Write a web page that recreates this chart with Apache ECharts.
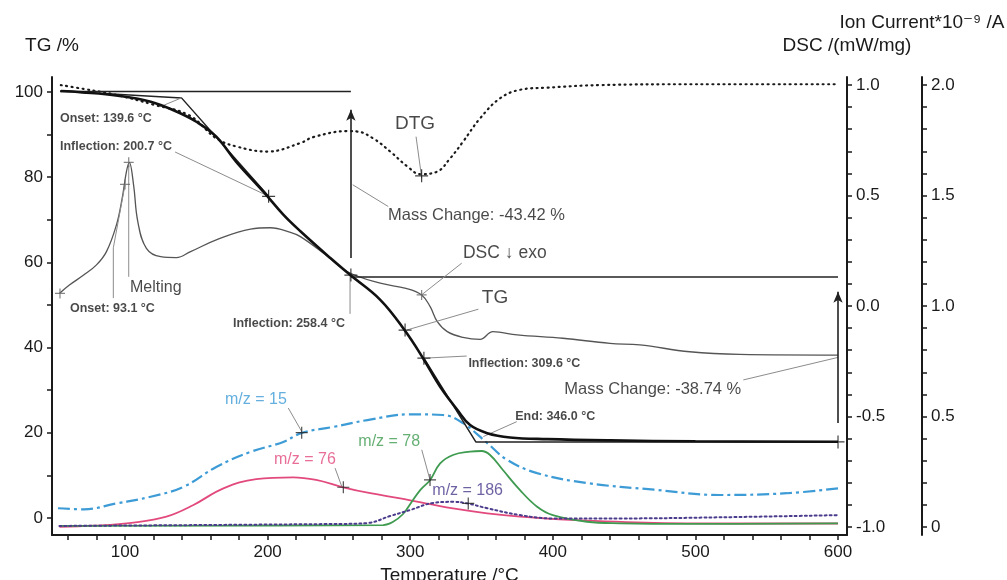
<!DOCTYPE html>
<html>
<head>
<meta charset="utf-8">
<script src="https://cdn.jsdelivr.net/npm/echarts@6.0.0/dist/echarts.min.js"></script>
<style>
  html, body { margin: 0; padding: 0; background: #fff; }
  #chart { width: 1007px; height: 580px; }
</style>
</head>
<body>
<div id="chart"></div>
<script>
// temperature axis ticks / labels
const tempTicks = [60, 80, 100, 120, 140, 160, 180, 200, 220, 240, 260, 280, 300, 320, 340, 360, 380, 400, 420, 440, 460, 480, 500, 520, 540, 560, 580, 600];
const tempLabels = [100, 200, 300, 400, 500, 600];
const tgTicks = [0, 10, 20, 30, 40, 50, 60, 70, 80, 90, 100];
const tgLabels = [0, 20, 40, 60, 80, 100];
const dscTicks = [-1.0, -0.9, -0.8, -0.7, -0.6, -0.5, -0.4, -0.3, -0.2, -0.1, 0, 0.1, 0.2, 0.3, 0.4, 0.5, 0.6, 0.7, 0.8, 0.9, 1.0];
const dscLabels = [-1.0, -0.5, 0, 0.5, 1.0];
const ionTicks = [0, 0.1, 0.2, 0.3, 0.4, 0.5, 0.6, 0.7, 0.8, 0.9, 1.0, 1.1, 1.2, 1.3, 1.4, 1.5, 1.6, 1.7, 1.8, 1.9, 2.0];
const ionLabels = [0, 0.5, 1.0, 1.5, 2.0];

// TG curve (%)
const tgTemp = [55, 70, 95, 118, 136, 150, 164, 178, 197, 211, 223, 244, 258, 279, 296, 309, 321, 333, 342, 354, 370, 396, 440, 500, 600];
const tgMass = [100.2, 99.9, 99.1, 97.7, 95.4, 93.0, 89.5, 83.6, 76.6, 71.2, 67.3, 61.0, 57.0, 51.2, 44.1, 37.5, 30.8, 25.4, 21.8, 19.9, 18.9, 18.5, 18.2, 18.0, 17.9];

// DTG curve (drawn on TG scale, no own axis)
const dtgTemp = [55, 71, 94, 120, 145, 164, 178, 200, 223, 232, 256, 263, 274, 286, 298, 307, 319, 328, 337, 349, 363, 377, 396, 433, 500, 600];
const dtgVal = [101.6, 100.7, 99.3, 97.0, 94.5, 89.1, 87.2, 86.0, 88.0, 89.4, 90.8, 90.7, 89.1, 86.0, 82.5, 80.7, 81.3, 84.4, 88.3, 93.8, 98.5, 100.5, 101.0, 101.6, 101.8, 101.8];

// DSC curve (mW/mg)
const dscTemp = [54, 61, 71, 80, 87, 94, 98, 101, 103, 106, 109, 115, 125, 136, 146, 164, 188, 202, 216, 223, 240, 256, 279, 297, 308, 314, 319, 326, 337, 349, 358, 375, 407, 440, 461, 496, 531, 600];
const dscVal = [0.057, 0.095, 0.140, 0.186, 0.246, 0.367, 0.487, 0.608, 0.650, 0.548, 0.381, 0.261, 0.223, 0.219, 0.246, 0.299, 0.348, 0.354, 0.333, 0.314, 0.235, 0.155, 0.103, 0.080, 0.050, -0.003, -0.071, -0.116, -0.142, -0.151, -0.116, -0.131, -0.146, -0.169, -0.176, -0.207, -0.219, -0.222];

// ion currents (*10^-9 A)
const mz15Temp = [53, 71, 94, 118, 141, 164, 188, 211, 224, 246, 270, 300, 323, 337, 354, 368, 389, 424, 471, 517, 564, 600];
const mz15Val = [0.085, 0.080, 0.107, 0.137, 0.182, 0.272, 0.340, 0.385, 0.426, 0.453, 0.484, 0.510, 0.507, 0.470, 0.380, 0.304, 0.244, 0.199, 0.169, 0.145, 0.153, 0.175];
const mz76Temp = [54, 78, 106, 129, 148, 169, 192, 218, 234, 253, 272, 293, 314, 330, 354, 377, 412, 471, 541, 600];
const mz76Val = [0.001, 0.006, 0.020, 0.047, 0.100, 0.175, 0.217, 0.225, 0.213, 0.180, 0.153, 0.130, 0.104, 0.084, 0.062, 0.047, 0.032, 0.019, 0.016, 0.016];
const mz78Temp = [54, 281, 288, 295, 301, 307, 314, 321, 330, 342, 350, 356, 365, 377, 389, 400, 424, 447, 494, 600];
const mz78Val = [0.005, 0.009, 0.024, 0.059, 0.113, 0.167, 0.213, 0.288, 0.326, 0.341, 0.344, 0.326, 0.258, 0.167, 0.092, 0.054, 0.024, 0.017, 0.014, 0.017];
const mz186Temp = [54, 251, 270, 286, 300, 316, 330, 340, 354, 377, 400, 447, 517, 600];
const mz186Val = [0.005, 0.014, 0.018, 0.050, 0.077, 0.109, 0.114, 0.107, 0.085, 0.054, 0.039, 0.039, 0.044, 0.054];

// TG evaluation lines (temperature, %)
const onsetLine = [[54.4, 100.2], [139.6, 98.6], [200.7, 75.5]];
const startLevel = [[54.4, 100.1], [258.4, 100.1]];
const midLevel = [[258.4, 56.58], [600, 56.58]];
const endLine = [[309.6, 37.5], [346.0, 17.84], [600, 17.84]];
const massArrows = [[[258.4, 61.0], [258.4, 95.8]], [[600, 22.3], [600, 53.1]]];

// markers (+)
const tgMarks = [[200.7, 75.5], [258.4, 57.0], [296.4, 44.1], [309.6, 37.5], [600, 17.84], [308, 80.3]];
const dscMarks = [[54.4, 0.057], [100, 0.55], [102.6, 0.65], [308, 0.05]];
const ionMarks = [[223.9, 0.427], [253.1, 0.180], [313.9, 0.213], [340.7, 0.107]];

// annotation leaders (temperature, TG scale)
const leaders = [
  [[124.5, 96.5], [139.6, 98.6]],
  [[135.1, 85.9], [200.7, 75.5]],
  [[102.6, 82.9], [102.6, 56.6]],
  [[91.8, 63.4], [91.8, 51.6]],
  [[91.8, 63.4], [100, 78.2]],
  [[257.8, 56.8], [257.8, 47.9]],
  [[304.1, 89.5], [308.1, 79.7]],
  [[284.6, 73.1], [259.7, 78.2]],
  [[336.1, 59.8], [308.1, 52.4]],
  [[347.8, 49.0], [297.5, 44.1]],
  [[339.6, 38.0], [309.2, 37.5]],
  [[374.7, 22.6], [351.3, 19.1]],
  [[533.6, 32.4], [600.2, 37.7]],
  [[214.5, 25.8], [223.9, 20.3]],
  [[247.3, 11.7], [252.0, 7.4]],
  [[308.1, 16.0], [313.9, 8.9]]
];

// annotation texts: text, temperature, TG-scale position of left/middle, size, colour, weight
const notes = [
  ['Onset: 139.6 °C', 54.4, 93.7, 12.5, '#1a1a1a', 'bold'],
  ['Inflection: 200.7 °C', 54.4, 87.1, 12.5, '#1a1a1a', 'bold'],
  ['Melting', 103.5, 54.0, 16, '#1a1a1a', 'normal'],
  ['Onset: 93.1 °C', 61.4, 49.1, 12.5, '#1a1a1a', 'bold'],
  ['DTG', 289.3, 92.5, 19, '#1a1a1a', 'normal'],
  ['Mass Change: -43.42 %', 284.4, 70.9, 16.5, '#1a1a1a', 'normal'],
  ['DSC ↓ exo', 337.0, 62.2, 17.5, '#1a1a1a', 'normal'],
  ['TG', 350.2, 51.6, 19, '#1a1a1a', 'normal'],
  ['Inflection: 258.4 °C', 175.7, 45.7, 12.5, '#1a1a1a', 'bold'],
  ['Inflection: 309.6 °C', 340.8, 36.2, 12.5, '#1a1a1a', 'bold'],
  ['Mass Change: -38.74 %', 408.0, 30.1, 16.5, '#1a1a1a', 'normal'],
  ['End: 346.0 °C', 373.6, 23.9, 12.5, '#1a1a1a', 'bold'],
  ['m/z = 15', 170.1, 27.7, 16, '#3d9bd6', 'normal'],
  ['m/z = 76', 204.5, 13.6, 16, '#e24a7d', 'normal'],
  ['m/z = 78', 263.6, 17.9, 16, '#3f9b50', 'normal'],
  ['m/z = 186', 315.5, 6.4, 16, '#4b3b8c', 'normal']
];

const zip = (a, b) => a.map((v, i) => [v, b[i]]);
const FONT = 'Liberation Sans, Arial, DejaVu Sans, sans-serif';
const AXIS = '#1a1a1a';
const cross = 'path://M0,5L10,5M5,0L5,10';

const chart = echarts.init(document.getElementById('chart'));

const lineSeries = (name, data, yIndex, style, z) => ({
  name: name,
  type: 'line',
  xAxisIndex: 0,
  yAxisIndex: yIndex,
  data: data,
  showSymbol: false,
  symbol: 'none',
  smooth: 0.4,
  lineStyle: style,
  z: z || 2,
  silent: true
});

const straight = (data, style, z) => ({
  type: 'line',
  yAxisIndex: 0,
  data: data,
  symbol: 'none',
  lineStyle: style,
  z: z || 3,
  silent: true
});

const series = [
  lineSeries('m/z = 15', zip(mz15Temp, mz15Val), 2, { color: '#3d9bd6', width: 2.2, type: [12, 4, 3, 4] }),
  lineSeries('m/z = 76', zip(mz76Temp, mz76Val), 2, { color: '#e24a7d', width: 1.8 }),
  lineSeries('m/z = 78', zip(mz78Temp, mz78Val), 2, { color: '#3f9b50', width: 1.8 }),
  lineSeries('m/z = 186', zip(mz186Temp, mz186Val), 2, { color: '#4b3b8c', width: 2, type: [2, 3], cap: 'round' }),
  lineSeries('DSC', zip(dscTemp, dscVal), 1, { color: '#555', width: 1.3 }),
  lineSeries('DTG', zip(dtgTemp, dtgVal), 0, { color: '#1a1a1a', width: 2.2, type: [1, 4.5], cap: 'round' }),
  straight(onsetLine, { color: '#222', width: 1.5 }),
  straight(startLevel, { color: '#222', width: 1.5 }),
  straight(midLevel, { color: '#222', width: 1.5 }),
  straight(endLine, { color: '#222', width: 1.5 }),
  Object.assign(lineSeries('TG', zip(tgTemp, tgMass), 0, { color: '#111', width: 2.6 }, 5), {
    markLine: {
      silent: true,
      symbol: ['none', 'arrow'],
      symbolSize: [7, 11],
      label: { show: false },
      lineStyle: { color: '#222', width: 1.6, type: 'solid' },
      data: massArrows.map(a => [{ coord: a[0] }, { coord: a[1] }])
    }
  })
];

leaders.forEach(l => series.push(straight(l, { color: '#8c8c8c', width: 1 }, 4)));

const markSeries = (data, yIndex, size, color) => ({
  type: 'scatter',
  yAxisIndex: yIndex,
  data: data,
  symbol: cross,
  symbolSize: size,
  itemStyle: { color: 'none', borderColor: color, borderWidth: 1.2 },
  z: 6,
  silent: true
});
series.push(markSeries(tgMarks, 0, 13, '#111'));
series.push(markSeries(dscMarks, 1, 10, '#666'));
series.push(markSeries(ionMarks, 2, 12, '#222'));

series.push({
  type: 'scatter',
  yAxisIndex: 0,
  symbolSize: 0,
  silent: true,
  z: 7,
  data: notes.map(n => ({
    name: n[0],
    value: [n[1], n[2]],
    label: { fontSize: n[3], color: n[4], fontWeight: n[5] }
  })),
  label: {
    show: true,
    position: 'right',
    distance: 0,
    formatter: '{b}',
    fontFamily: FONT
  }
});

const nameText = { color: AXIS, fontSize: 19, fontFamily: FONT };

chart.setOption({
  animation: false,
  backgroundColor: '#fff',
  grid: { left: 52, right: 160, top: 77, bottom: 45, outerBoundsMode: 'none', containLabel: false },
  xAxis: {
    type: 'value',
    min: 48.8,
    max: 606.3,
    name: 'Temperature /°C',
    nameLocation: 'middle',
    nameGap: 26,
    nameTextStyle: nameText,
    axisLine: { onZero: false, lineStyle: { color: AXIS, width: 2 } },
    axisTick: { customValues: tempTicks, length: 5, lineStyle: { color: AXIS, width: 1.5 } },
    axisLabel: { customValues: tempLabels, margin: 9, color: AXIS, fontSize: 17, fontFamily: FONT },
    splitLine: { show: false }
  },
  yAxis: [
    {
      type: 'value',
      position: 'left',
      min: -4,
      max: 103.5,
      name: 'TG /%',
      nameLocation: 'end',
      nameGap: 22,
      nameTextStyle: nameText,
      axisLine: { show: true, onZero: false, lineStyle: { color: AXIS, width: 2 } },
      axisTick: { customValues: tgTicks, length: 5, lineStyle: { color: AXIS, width: 1.5 } },
      axisLabel: { customValues: tgLabels, margin: 9, color: AXIS, fontSize: 17, fontFamily: FONT },
      splitLine: { show: false }
    },
    {
      type: 'value',
      position: 'right',
      min: -1.036,
      max: 1.036,
      name: 'DSC /(mW/mg)',
      nameLocation: 'end',
      nameGap: 22,
      nameTextStyle: nameText,
      axisLine: { show: true, onZero: false, lineStyle: { color: AXIS, width: 2 } },
      axisTick: { customValues: dscTicks, length: 5, lineStyle: { color: AXIS, width: 1.5 } },
      axisLabel: {
        customValues: dscLabels, margin: 9, color: AXIS, fontSize: 17, fontFamily: FONT,
        formatter: v => v.toFixed(1)
      },
      splitLine: { show: false }
    },
    {
      type: 'value',
      position: 'right',
      offset: 75,
      min: -0.036,
      max: 2.036,
      name: 'Ion Current*10⁻⁹ /A',
      nameLocation: 'end',
      nameGap: 45,
      nameTextStyle: nameText,
      axisLine: { show: true, onZero: false, lineStyle: { color: AXIS, width: 2 } },
      axisTick: { customValues: ionTicks, length: 5, lineStyle: { color: AXIS, width: 1.5 } },
      axisLabel: {
        customValues: ionLabels, margin: 9, color: AXIS, fontSize: 17, fontFamily: FONT,
        formatter: v => (v === 0 ? '0' : v.toFixed(1))
      },
      splitLine: { show: false }
    }
  ],
  series: series
});

window.addEventListener('resize', () => chart.resize());
</script>
</body>
</html>
